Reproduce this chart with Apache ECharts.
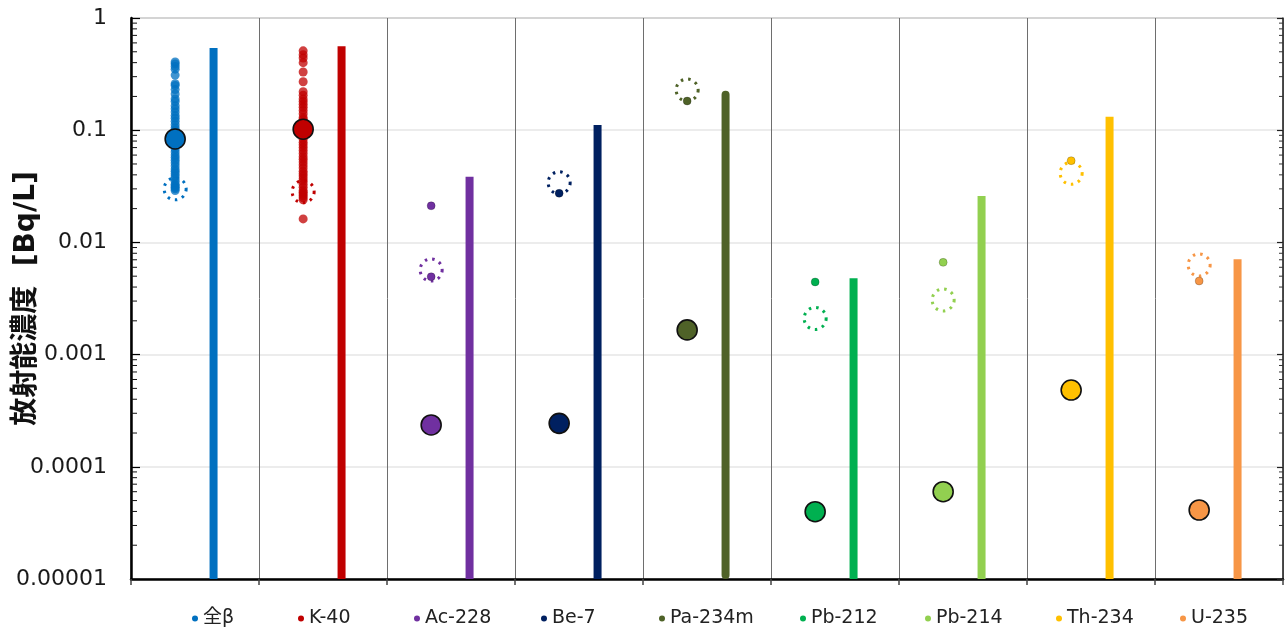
<!DOCTYPE html>
<html>
<head>
<meta charset="utf-8">
<script src="https://cdn.jsdelivr.net/npm/echarts@6/dist/echarts.min.js"></script>
<style>
  html, body { margin: 0; padding: 0; background: #fff; }
  #chart { width: 1288px; height: 627px; }
</style>
</head>
<body>
<div id="chart"></div>
<script>
// 核種ごとの測定値
const nuclides = ['全β', 'K-40', 'Ac-228', 'Be-7', 'Pa-234m', 'Pb-212', 'Pb-214', 'Th-234', 'U-235']
const colors = ['#0070c0', '#c00000', '#7030a0', '#002060', '#4f6228', '#00b050', '#92d050', '#ffc000', '#f79646']

const dotsBeta = [0.405, 0.39, 0.37, 0.35, 0.31, 0.26, 0.25, 0.23, 0.21, 0.19, 0.18, 0.165, 0.155, 0.145,
  0.135, 0.128, 0.12, 0.112, 0.105, 0.1, 0.095, 0.09, 0.086, 0.08, 0.077, 0.072, 0.068, 0.064, 0.06,
  0.057, 0.054, 0.051, 0.048, 0.045, 0.043, 0.041, 0.039, 0.037, 0.035, 0.033, 0.032, 0.031, 0.03, 0.029]
const dotsK40 = [0.51, 0.47, 0.44, 0.40, 0.33, 0.27, 0.22, 0.205, 0.19, 0.18, 0.17, 0.16, 0.15, 0.14, 0.13,
  0.125, 0.118, 0.11, 0.105, 0.098, 0.092, 0.088, 0.083, 0.078, 0.074, 0.07, 0.066, 0.062, 0.058, 0.055,
  0.052, 0.049, 0.046, 0.043, 0.041, 0.039, 0.037, 0.035, 0.033, 0.031, 0.029, 0.028, 0.027, 0.026, 0.025,
  0.024, 0.0162]
const dotsAc228 = [0.0212, 0.00494]
const dotsBe7 = [0.0274]
const dotsPa234m = [0.182]
const dotsPb212 = [0.00444]
const dotsPb214 = [0.00664]
const dotsTh234 = [0.0535]
const dotsU235 = [0.00453]
const measured = [dotsBeta, dotsK40, dotsAc228, dotsBe7, dotsPa234m, dotsPb212, dotsPb214, dotsTh234, dotsU235]

const detLimit = [0.030, 0.0283, 0.00568, 0.034, 0.228, 0.0021, 0.00307, 0.0413, 0.00629]
const meanVal = [0.0835, 0.102, 0.000236, 0.000244, 0.00166, 0.0000398, 0.00006, 0.000483, 0.0000412]
const barVal = [0.54, 0.56, 0.0385, 0.111, 0.225, 0.00479, 0.0259, 0.132, 0.00707]

const yTickLabels = ['0.00001', '0.0001', '0.001', '0.01', '0.1', '1']
const minorMultipliers = [2, 3, 4, 5, 6, 7, 8, 9]

const Y_MIN = 0.00001
const Y_MAX = 1
const DOT_OFF = 0.345
const BAR_OFF = 0.645
// 凡例の位置（Excelの並びに合わせる）
const legendLeft = [187, 293, 409, 536, 654, 795, 920, 1051, 1175]

const chart = echarts.init(document.getElementById('chart'))

const series = []

// 補助目盛り（対数 2〜9）
const minorData = []
for (let k = -5; k < 0; k++) {
  minorMultipliers.forEach(m => minorData.push([0, m * Math.pow(10, k)]))
}
series.push({
  type: 'custom',
  name: '_minor',
  silent: true,
  z: 10,
  data: minorData,
  encode: { x: 0, y: 1 },
  renderItem: (params, api) => {
    const v = api.value(1)
    const l = api.coord([0, v])
    const r = api.coord([9, v])
    return {
      type: 'group',
      children: [
        { type: 'line', shape: { x1: l[0], y1: l[1], x2: l[0] + 6, y2: l[1] }, style: { stroke: '#111', lineWidth: 1 } },
        { type: 'line', shape: { x1: r[0], y1: r[1], x2: r[0] - 4, y2: r[1] }, style: { stroke: '#333', lineWidth: 1 } }
      ]
    }
  }
})

nuclides.forEach((name, i) => {
  const c = colors[i]
  // 縦棒
  series.push({
    type: 'custom',
    name: name,
    z: 2,
    data: [[i + BAR_OFF, barVal[i]]],
    encode: { x: 0, y: 1 },
    renderItem: (params, api) => {
      const top = api.coord([api.value(0), api.value(1)])
      const bot = api.coord([api.value(0), Y_MIN])
      const round = name === 'Pa-234m'
      return {
        type: 'line',
        shape: { x1: top[0], y1: round ? bot[1] - 4 : bot[1], x2: top[0], y2: round ? top[1] + 4 : top[1] },
        style: { stroke: c, lineWidth: 8, lineCap: round ? 'round' : 'butt' }
      }
    }
  })
  // 点線の円
  series.push({
    type: 'scatter',
    name: name,
    z: 3,
    symbol: 'circle',
    symbolSize: 22,
    data: [[i + DOT_OFF, detLimit[i]]],
    itemStyle: { color: 'rgba(0,0,0,0)', borderColor: c, borderWidth: 3, borderType: [2.5, 5], opacity: 1 }
  })
  // 個別測定値
  const many = measured[i].length > 5
  series.push({
    type: 'scatter',
    name: name,
    z: 4,
    symbol: 'circle',
    symbolSize: many ? 9 : 8,
    data: measured[i].map(v => [i + DOT_OFF, v]),
    itemStyle: many
      ? { color: c, opacity: 0.75 }
      : { color: c, borderColor: 'rgba(0,0,0,0.35)', borderWidth: 0.6, opacity: 1 }
  })
  // 平均値
  series.push({
    type: 'scatter',
    name: name,
    z: 5,
    symbol: 'circle',
    symbolSize: 20,
    data: [[i + DOT_OFF, meanVal[i]]],
    itemStyle: { color: c, borderColor: '#111', borderWidth: 1.6, opacity: 1 }
  })
})

const legends = nuclides.map((n, i) => ({
  left: legendLeft[i],
  top: 604,
  itemWidth: 6,
  itemHeight: 8,
  itemGap: 0,
  icon: 'circle',
  data: [{ name: n, itemStyle: { color: colors[i], borderWidth: 0, opacity: 1 } }],
  textStyle: { fontSize: 19, color: '#222', fontFamily: 'DejaVu Sans, Noto Sans CJK JP' }
}))

const option = {
  animation: false,
  backgroundColor: '#fff',
  grid: {
    left: 131, right: 5, top: 18, bottom: 48,
    outerBoundsMode: 'none', containLabel: false,
    show: true, borderColor: '#404040', borderWidth: 1
  },
  legend: legends,
  xAxis: {
    type: 'value',
    min: 0,
    max: 9,
    interval: 1,
    axisLine: { lineStyle: { color: '#000', width: 2.5 } },
    axisTick: { show: true, length: 6, lineStyle: { color: '#444', width: 1.5 } },
    axisLabel: { show: false },
    splitLine: { show: true, lineStyle: { color: '#6e6e6e', width: 1 } }
  },
  yAxis: [
    {
      type: 'log',
      logBase: 10,
      min: Y_MIN,
      max: Y_MAX,
      axisLine: { show: true, lineStyle: { color: '#000', width: 2.5 } },
      axisTick: { show: true, inside: true, length: 9, lineStyle: { color: '#000', width: 1.2 } },
      axisLabel: {
        fontSize: 22,
        color: '#1a1a1a',
        margin: 24,
        fontFamily: 'DejaVu Sans',
        formatter: v => yTickLabels[Math.round(Math.log10(v)) + 5]
      },
      splitLine: { show: true, lineStyle: { color: '#e6e6e6', width: 1.5 } },
      name: '放射能濃度  [Bq/L]',
      nameLocation: 'middle',
      nameRotate: 90,
      nameGap: 90,
      nameMoveOverlap: false,
      nameTextStyle: { fontSize: 28, fontWeight: 'bold', color: '#111', fontFamily: 'DejaVu Sans, Noto Sans CJK JP' }
    },
    {
      type: 'log',
      logBase: 10,
      min: Y_MIN,
      max: Y_MAX,
      position: 'right',
      axisLine: { show: true, lineStyle: { color: '#333', width: 1.5 } },
      axisTick: { show: true, inside: true, length: 6, lineStyle: { color: '#222', width: 1.2 } },
      axisLabel: { show: false },
      splitLine: { show: false }
    }
  ],
  series: series
}

chart.setOption(option)
</script>
</body>
</html>
